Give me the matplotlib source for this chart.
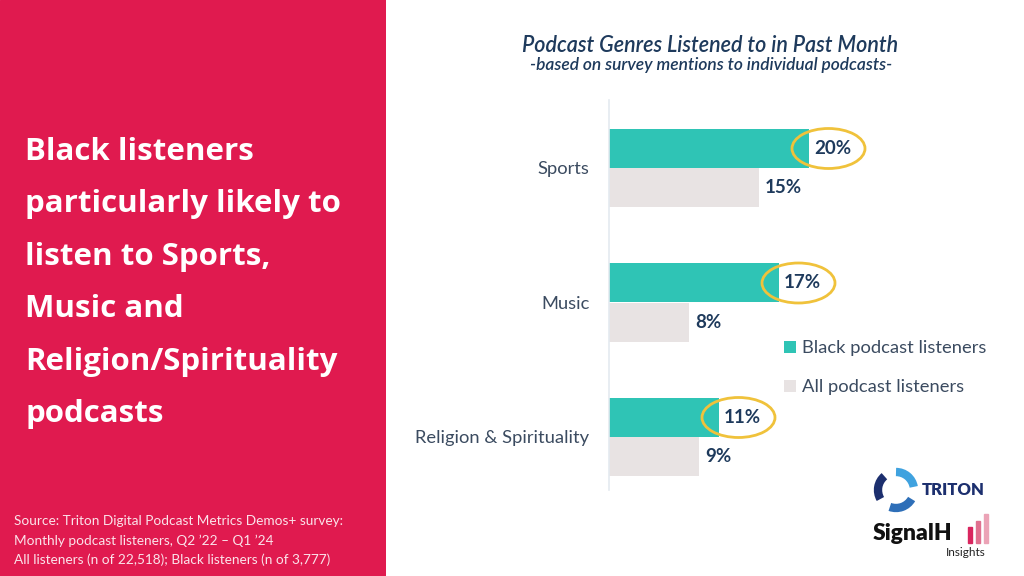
import matplotlib.pyplot as plt
from matplotlib.patches import Ellipse, Rectangle, Arc
import numpy as np

genres = ["Sports", "Music", "Religion & Spirituality"]
black_vals = [20, 17, 11]
all_vals = [15, 8, 9]
series_names = ["Black podcast listeners", "All podcast listeners"]

title = "Podcast Genres Listened to in Past Month"
subtitle = "-based on survey mentions to individual podcasts-"
headline = ["Black listeners", "particularly likely to", "listen to Sports,",
            "Music and", "Religion/Spirituality", "podcasts"]
source = ["Source: Triton Digital Podcast Metrics Demos+ survey:",
          "Monthly podcast listeners, Q2 \u201922 \u2013 Q1 \u201924",
          "All listeners (n of 22,518); Black listeners (n of 3,777)"]

RED = "#E01A4F"
TEAL = "#2FC4B5"
GREY = "#E8E3E3"
NAVY = "#1E3A5C"
SLATE = "#3B4B60"
GOLD = "#F0C23B"

W, H = 1024, 576
fig = plt.figure(figsize=(W / 100, H / 100), dpi=100)
fig.patch.set_facecolor("white")

# left red panel
panel = fig.add_axes([0, 0, 386 / W, 1])
panel.set_xlim(0, 386)
panel.set_ylim(H, 0)
panel.axis("off")
panel.add_patch(Rectangle((0, 0), 386, H, color=RED))
for i, line in enumerate(headline):
    panel.text(25, 152 + i * 52.4, line, color="white", fontsize=22.5,
               fontweight="bold", family="Open Sans", va="center", ha="left")
for i, line in enumerate(source):
    panel.text(14, 521 + i * 19.5, line, color="#FBE3EA", fontsize=9.8,
               family="Lato", va="center", ha="left")

# bar chart, 10 px per percent
ax = fig.add_axes([609 / W, 1 - 490 / H, 400 / W, 390 / H])
pitch = 134.5
y = np.arange(len(genres))
h = 39 / pitch
ax.set_xlim(0, 40)
ax.set_ylim(322 / pitch, -68 / pitch)
ax.barh(y - h / 2, black_vals, height=h, color=TEAL, label=series_names[0])
ax.barh(y + h / 2, all_vals, height=h, color=GREY, label=series_names[1])

for i in range(len(genres)):
    ax.text(black_vals[i] + 0.5, y[i] - h / 2, f"{black_vals[i]}%", color=NAVY,
            fontsize=13.5, fontweight="bold", family="Lato", va="center")
    ax.text(all_vals[i] + 0.6, y[i] + h / 2, f"{all_vals[i]}%", color=NAVY,
            fontsize=13.5, fontweight="bold", family="Lato", va="center")
    ax.add_patch(Ellipse((black_vals[i] + 1.95, y[i] - h / 2), 7.3, 40 / pitch,
                         fill=False, edgecolor=GOLD, lw=2, clip_on=False))

ax.set_yticks(y)
ax.set_yticklabels(genres, fontsize=13.2, color=SLATE, family="Lato")
ax.tick_params(axis="y", length=0, pad=14)
ax.set_xticks([])
for s in ["top", "right", "bottom"]:
    ax.spines[s].set_visible(False)
ax.spines["left"].set_color("#E4EAF0")
ax.spines["left"].set_linewidth(1.2)

leg = ax.legend(loc="upper left", bbox_to_anchor=(158 / 400, 1 - 224 / 390),
                frameon=False, handlelength=0.7, handleheight=0.7,
                handletextpad=0.3, labelspacing=1.25,
                prop={"family": "Lato", "size": 13.2})
for t in leg.get_texts():
    t.set_color(SLATE)

# titles
fig.text(710 / W, 1 - 45 / H, title, ha="center", va="center", color=NAVY,
         fontsize=15.5, style="italic", fontweight="semibold", family="Lato")
fig.text(711 / W, 1 - 65 / H, subtitle, ha="center", va="center", color=NAVY,
         fontsize=12.5, style="italic", fontweight="semibold", family="Lato")

# logos (approximate)
lg = fig.add_axes([860 / W, 0, 164 / W, 116 / H])
lg.set_xlim(860, 1024)
lg.set_ylim(576, 460)
lg.axis("off")
for a0, col in [(30, "#2E6FB8"), (150, "#1C2F6E"), (270, "#3FA2DF")]:
    lg.add_patch(Arc((896, 490), 36, 36, theta1=a0, theta2=a0 + 80, lw=6, color=col))
lg.text(922, 490, "TRITON", color="#1C2F6E", fontsize=12, fontweight="heavy",
        family="Lato", va="center", ha="left")
lg.text(873, 533, "SignalH", color="#111111", fontsize=16.5, fontweight="heavy",
        family="Lato", va="center", ha="left")
bar_cols = ["#D9265F", "#E0708F", "#EBA3B6"]
for k, (xb, hb) in enumerate([(968, 16), (976, 22), (984, 29)]):
    lg.add_patch(Rectangle((xb, 543 - hb), 3.5, hb, color=bar_cols[k]))
lg.text(946, 553, "Insights", color="#222222", fontsize=8.5, family="Lato",
        va="center", ha="left")

fig.savefig("out.png", dpi=100)
